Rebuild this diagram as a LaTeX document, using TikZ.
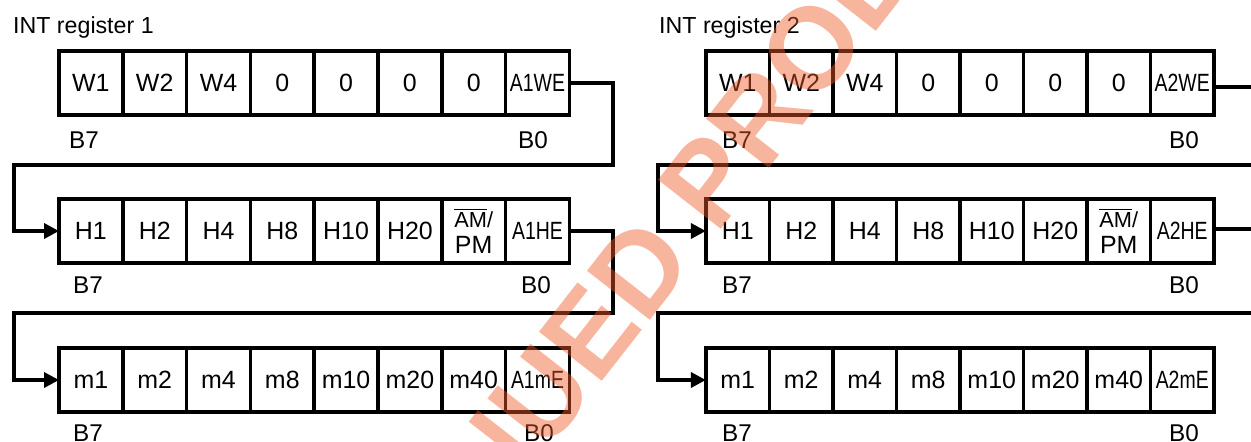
\documentclass[tikz,border=0pt]{standalone}
\usepackage{fontspec}
\setmainfont{Liberation Sans}
\usepackage{graphicx}
\usetikzlibrary{arrows.meta}
\definecolor{stampred}{RGB}{240,90,40}
\newcommand{\regsq}[1]{\scalebox{0.78}[1]{#1}}
\newcommand{\ampmbit}{\fontsize{12.4}{10.8}\selectfont$\overline{\mbox{AM}}$/\\PM}

\begin{document}
\begin{tikzpicture}[
x=0.02cm, y=-0.02cm,
font=\fontsize{14.2}{15}\selectfont,
cell/.style={draw=black, line width=2pt, inner sep=0pt, outer sep=0pt, align=center,
  minimum width=1.276cm, minimum height=1.28cm},
title/.style={anchor=west, font=\fontsize{13.2}{15}\selectfont},
bitlbl/.style={font=\fontsize{13.8}{15}\selectfont},
link/.style={line width=2pt, -{Triangle[length=8.5pt, width=8.5pt]}},
line/.style={line width=2pt}
]
\useasboundingbox (0,0) rectangle (1251,441);

% INT register 1
\node[title] (tita) at (7,27) {INT register 1};
\foreach \lbl [count=\i] in {W1,W2,W4,0,0,0,0}
  \node[cell] (wa\i) at ({59+(\i-0.5)*63.8},83) {\lbl};
\node[cell] (wa8) at ({59+7.5*63.8},83) {\regsq{A1WE}};
\foreach \lbl [count=\i] in {H1,H2,H4,H8,H10,H20}
  \node[cell] (ha\i) at ({59+(\i-0.5)*63.8},231) {\lbl};
\node[cell] (ha7) at ({59+6.5*63.8},231) {\ampmbit};
\node[cell] (ha8) at ({59+7.5*63.8},231) {\regsq{A1HE}};
\foreach \lbl [count=\i] in {m1,m2,m4,m8,m10,m20,m40}
  \node[cell] (ma\i) at ({59+(\i-0.5)*63.8},380) {\lbl};
\node[cell] (ma8) at ({59+7.5*63.8},380) {\regsq{A1mE}};
\node[bitlbl] (wab7) at (84,140) {B7};
\node[bitlbl] (wab0) at (533,140) {B0};
\node[bitlbl] (hab7) at (88,285) {B7};
\node[bitlbl] (hab0) at (536,285) {B0};
\node[bitlbl] (mab7) at (88,433) {B7};
\node[bitlbl] (mab0) at (539,433) {B0};
\draw[link] (wa8.east) -| (613,165) -- (14,165) |- (ha1.west);
\draw[link] (ha8.east) -| (613,313) -- (14,313) |- (ma1.west);

% INT register 2
\node[title] (titb) at (653,27) {INT register 2};
\foreach \lbl [count=\i] in {W1,W2,W4,0,0,0,0}
  \node[cell] (wb\i) at ({706+(\i-0.5)*63.5},83) {\lbl};
\node[cell] (wb8) at ({706+7.5*63.5},83) {\regsq{A2WE}};
\foreach \lbl [count=\i] in {H1,H2,H4,H8,H10,H20}
  \node[cell] (hb\i) at ({706+(\i-0.5)*63.5},231) {\lbl};
\node[cell] (hb7) at ({706+6.5*63.5},231) {\ampmbit};
\node[cell] (hb8) at ({706+7.5*63.5},231) {\regsq{A2HE}};
\foreach \lbl [count=\i] in {m1,m2,m4,m8,m10,m20,m40}
  \node[cell] (mb\i) at ({706+(\i-0.5)*63.5},380) {\lbl};
\node[cell] (mb8) at ({706+7.5*63.5},380) {\regsq{A2mE}};
\node[bitlbl] (wbb7) at (737,140) {B7};
\node[bitlbl] (wbb0) at (1184,140) {B0};
\node[bitlbl] (hbb7) at (737,285) {B7};
\node[bitlbl] (hbb0) at (1184,285) {B0};
\node[bitlbl] (mbb7) at (737,433) {B7};
\node[bitlbl] (mbb0) at (1184,433) {B0};
\coordinate (wbout) at (1251,87);
\coordinate (hbout) at (1251,229);
\coordinate (hbin) at (1251,165);
\coordinate (mbin) at (1251,313);
\draw[line] (wb8.east |- wbout) -- (wbout);
\draw[line] (hb8.east |- hbout) -- (hbout);
\draw[link] (hbin) -- (658,165) |- (hb1.west);
\draw[link] (mbin) -- (658,313) |- (mb1.west);

% stamp
\begin{scope}
\clip (0,0) rectangle (1251,441);
\node[text=stampred, opacity=0.45, rotate=52, font=\fontsize{66}{68}\bfseries\selectfont]
  (stamp) at (580,345) {DISCONTINUED PRODUCT};
\end{scope}
\end{tikzpicture}
\end{document}
